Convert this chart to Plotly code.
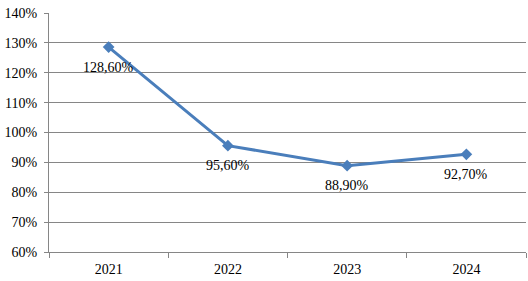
import plotly.graph_objects as go

years = ["2021", "2022", "2023", "2024"]
values = [128.6, 95.6, 88.9, 92.7]
labels = ["128,60%", "95,60%", "88,90%", "92,70%"]
y_ticks = [60, 70, 80, 90, 100, 110, 120, 130, 140]
y_ticklabels = [f"{v}%" for v in y_ticks]

FONT = "Liberation Serif, Times New Roman, serif"
grid = "#868686"

fig = go.Figure()
fig.add_trace(go.Scatter(
    x=years, y=values, mode="lines+markers",
    line=dict(color="#4A7EBB", width=3),
    marker=dict(symbol="diamond", size=9, color="#4A7EBB"),
    cliponaxis=False,
))

# category axis: annotation x given as category index
for i, (y, t) in enumerate(zip(values, labels)):
    fig.add_annotation(x=i, y=y, xref="x", yref="y", text=t, showarrow=False,
                       yshift=-20, font=dict(family=FONT, size=14, color="black"))

fig.update_layout(
    width=528, height=281,
    margin=dict(l=49, r=2, t=13, b=29),
    paper_bgcolor="white", plot_bgcolor="white",
    showlegend=False,
    font=dict(family=FONT, size=14, color="black"),
    xaxis=dict(
        type="category", tickson="boundaries", ticks="outside", ticklen=5,
        tickcolor=grid, showline=True, linecolor=grid, linewidth=1,
        showgrid=False, range=[-0.5, 3.5], tickfont=dict(family=FONT, size=14),
        ticklabelstandoff=4,
    ),
    yaxis=dict(
        range=[60, 140], tickvals=y_ticks, ticktext=y_ticklabels,
        ticks="outside", ticklen=4, tickcolor=grid,
        showline=True, linecolor=grid, linewidth=1,
        showgrid=True, gridcolor=grid, gridwidth=1, zeroline=False,
        tickfont=dict(family=FONT, size=14), ticklabelstandoff=4,
    ),
)

fig.write_html("out.html")
